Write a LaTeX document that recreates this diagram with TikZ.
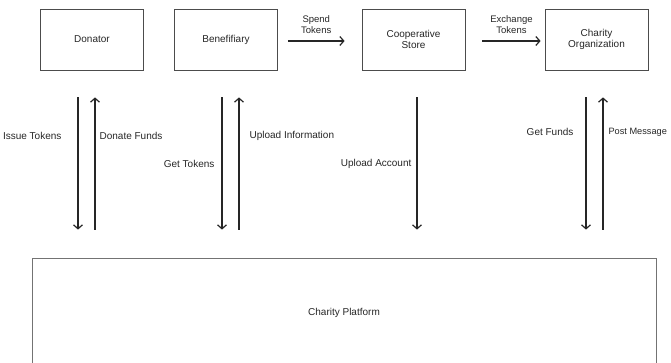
\documentclass[tikz,border=0pt]{standalone}
\usepackage{fontspec}
\setmainfont{Liberation Sans}
\usetikzlibrary{arrows.meta,quotes,positioning}

\begin{document}
\begin{tikzpicture}[
	x = 1pt, y = -1pt,
	node distance = 134pt,
	on grid,
	> = {Straight Barb[length=4pt,width=9pt]},
	every node/.style = {font=\fontsize{10}{11.5}\selectfont, text=black!85},
	party/.style = {draw=black!70, line width=0.8pt, minimum width=103pt,
		minimum height=61pt, align=center},
	flow/.style = {->, line width=1.2pt, black!85, shorten <=27pt, shorten >=28pt},
	pass/.style = {->, line width=1.2pt, black!85},
	tag/.style = {inner sep=0pt},
	every edge quotes/.style = {above=3pt, align=center, font=\fontsize{9.5}{11}\selectfont}
	]
	\useasboundingbox (0,0) rectangle (671,363);
	\node[party] (D) at (92,39.5) {Donator};
	\node[party] (B) [right=of D] {Benefifiary};
	\node[party] (S) [right=187.5pt of B] {Cooperative\\Store};
	\node[party] (O) [right=183pt of S] {Charity\\Organization};
	\node[draw=black!55, line width=0.8pt, minimum width=624pt, minimum height=110pt]
		(P) at (344,313) {Charity Platform};
	% tokens passed along the top row
	\path[pass]
	([shift={(10,1.5)}]B.east) edge["Spend\\Tokens"]    ([shift={(-17,1.5)}]S.west)
	([shift={(17,1.5)}]S.east) edge["Exchange\\Tokens"] ([shift={(-4,1.5)}]O.west);
	% to and from the platform
	\draw[flow] ([xshift=-14pt]D.south) -- ([xshift=-14pt]D.south |- P.north)
		node[tag, pos=0.35, left=16pt] {Issue Tokens};
	\draw[flow, <-] ([xshift=3pt]D.south) -- ([xshift=3pt]D.south |- P.north)
		node[tag, pos=0.35, right=4pt] {Donate Funds};
	\draw[flow] ([xshift=-4pt]B.south) -- ([xshift=-4pt]B.south |- P.north)
		node[tag, midway, left=7pt] {Get Tokens};
	\draw[flow, <-] ([xshift=13pt]B.south) -- ([xshift=13pt]B.south |- P.north)
		node[tag, pos=0.35, right=10pt] {Upload Information};
	\draw[flow] ([xshift=3.5pt]S.south) -- ([xshift=3.5pt]S.south |- P.north)
		node[tag, midway, left=5pt] {Upload Account};
	\draw[flow] ([xshift=-10.5pt]O.south) -- ([xshift=-10.5pt]O.south |- P.north)
		node[tag, pos=0.33, left=12pt] {Get Funds};
	\draw[flow, <-] ([xshift=6.5pt]O.south) -- ([xshift=6.5pt]O.south |- P.north)
		node[tag, pos=0.33, right=5pt, font=\fontsize{9.2}{11}\selectfont] {Post Message};
\end{tikzpicture}
\end{document}
